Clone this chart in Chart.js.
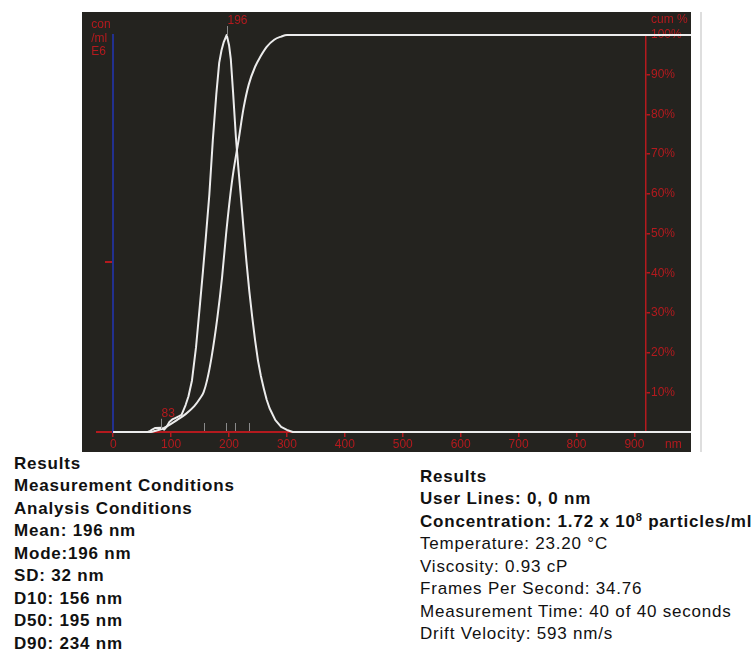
<!DOCTYPE html>
<html>
<head>
<meta charset="utf-8">
<script src="https://cdn.jsdelivr.net/npm/chart.js@4.4.1/dist/chart.umd.min.js"></script>
<style>
  body { margin: 0; background: #fff; width: 753px; height: 651px; position: relative; overflow: hidden;
         font-family: "Liberation Sans", Arial, sans-serif; }
  #panel { position: absolute; left: 82px; top: 12px; width: 609px; height: 440px; background: #24231f; }
  #edge { position: absolute; left: 700px; top: 12px; width: 2px; height: 440px; background: #dedede; }
  .info { position: absolute; font-size: 17px; line-height: 22.45px; letter-spacing: 0.8px; color: #111; }
  .info b { font-weight: bold; display: block; }
  .info span { display: block; }
  .info sup { font-size: 11px; line-height: 0; vertical-align: 6px; }
</style>
</head>
<body>
<div id="panel"><canvas id="nta" width="609" height="440"></canvas></div>
<div id="edge"></div>

<div class="info" style="left:14px; top:453px;">
  <b>Results</b>
  <b>Measurement Conditions</b>
  <b>Analysis Conditions</b>
  <b>Mean: 196 nm</b>
  <b>Mode:196 nm</b>
  <b>SD: 32 nm</b>
  <b>D10: 156 nm</b>
  <b>D50: 195 nm</b>
  <b>D90: 234 nm</b>
</div>

<div class="info" style="left:420px; top:466px;">
  <b>Results</b>
  <b>User Lines: 0, 0 nm</b>
  <b>Concentration: 1.72 x 10<sup>8</sup> particles/ml</b>
  <span>Temperature: 23.20 °C</span>
  <span>Viscosity: 0.93 cP</span>
  <span>Frames Per Second: 34.76</span>
  <span>Measurement Time: 40 of 40 seconds</span>
  <span>Drift Velocity: 593 nm/s</span>
</div>

<script>
// size distribution (con/ml E6)
var sizeNm = [0, 60, 64, 68, 72, 83, 88, 92, 97, 102, 107, 113, 118, 125, 130, 136, 143, 150, 155, 160, 166, 172, 178, 183, 187, 191, 196,
              200, 203, 207, 212, 216, 220, 225, 230, 235, 240, 245, 250, 255, 260, 265, 270, 280, 290, 300, 310, 1000];
var concE6 = [0, 0, 0.007, 0.016, 0.023, 0.025, 0.014, 0.03, 0.059, 0.074, 0.082, 0.092, 0.101, 0.159, 0.211, 0.304, 0.5, 0.76, 0.95, 1.15, 1.4, 1.72, 1.99, 2.176, 2.25, 2.3, 2.34,
              2.28, 2.2, 2.0, 1.73, 1.56, 1.404, 1.2, 1.006, 0.83, 0.679, 0.54, 0.421, 0.33, 0.257, 0.19, 0.14, 0.07, 0.03, 0.012, 0, 0];

// cumulative %
var cumNm  = [0, 65, 75, 85, 95, 110, 125, 140, 150, 156, 162, 170, 180, 188, 195, 205, 217, 225, 234, 245, 254, 265, 278, 290, 300, 1000];
var cumPct = [0, 0, 0.4, 0.8, 1.6, 3, 4.5, 6.5, 8.5, 10, 13, 19, 29, 39, 50, 63, 74, 81.5, 87.5, 92, 94.5, 97, 98.8, 99.6, 100, 100];

var xTicks = [0, 100, 200, 300, 400, 500, 600, 700, 800, 900];
var cumTicks = [10, 20, 30, 40, 50, 60, 70, 80, 90, 100];
var concTicks = [1];
var peakNm = [196, 83];
var statNm = [156, 195, 211, 234];

var red = '#b41a1e';
var lineWhite = '#ececec';
var axisFont = { family: '"Liberation Sans", Arial, sans-serif', size: 12 };

var textPlugin = {
  id: 'ntaText',
  afterDraw: function(chart) {
    var ctx = chart.ctx, ca = chart.chartArea;
    var xs = chart.scales.x, yc = chart.scales.yc;
    var x0 = xs.getPixelForValue(0);
    ctx.save();
    ctx.font = '12px "Liberation Sans", Arial, sans-serif';
    ctx.fillStyle = red;
    ctx.textAlign = 'left';
    ctx.textBaseline = 'alphabetic';
    ['con', '/ml', 'E6'].forEach(function(t, i) {
      ctx.fillText(t, x0 - 22, ca.top - 7 + i * 13.5);
    });
    ctx.fillText('cum %', ca.right + 5, ca.top - 12);
    ctx.fillText('nm', ca.right + 19, ca.bottom + 16);

    // peak markers
    ctx.strokeStyle = '#8a8a8a';
    ctx.lineWidth = 1;
    peakNm.forEach(function(nm) {
      var i = sizeNm.indexOf(nm);
      var px = Math.round(xs.getPixelForValue(nm)) + 0.5;
      var py = yc.getPixelForValue(concE6[i]);
      ctx.beginPath();
      ctx.moveTo(px, py + 1);
      ctx.lineTo(px, py - 9);
      ctx.stroke();
      ctx.fillText(String(nm), px, py - 11);
    });

    // D10 / D50 / D90 style marks on the baseline
    statNm.forEach(function(nm) {
      var px = Math.round(xs.getPixelForValue(nm)) + 0.5;
      ctx.beginPath();
      ctx.moveTo(px, ca.bottom - 1);
      ctx.lineTo(px, ca.bottom - 9);
      ctx.stroke();
    });
    ctx.restore();
  }
};

new Chart(document.getElementById('nta'), {
  type: 'line',
  data: {
    datasets: [{
      label: 'con/ml E6',
      data: sizeNm.map(function(v, i) { return { x: v, y: concE6[i] }; }),
      yAxisID: 'yc',
      borderColor: lineWhite,
      borderWidth: 2,
      pointRadius: 0,
      tension: 0,
      borderJoinStyle: 'round',
      clip: false
    }, {
      label: 'cum %',
      data: cumNm.map(function(v, i) { return { x: v, y: cumPct[i] }; }),
      yAxisID: 'y',
      borderColor: lineWhite,
      borderWidth: 2,
      pointRadius: 0,
      cubicInterpolationMode: 'monotone',
      clip: false
    }]
  },
  options: {
    responsive: false,
    animation: false,
    devicePixelRatio: 1,
    layout: { padding: { left: 15, top: 23, right: 0, bottom: 0 } },
    plugins: { legend: { display: false }, tooltip: { enabled: false } },
    scales: {
      x: {
        type: 'linear',
        position: 'bottom',
        min: -28,
        max: 920,
        afterBuildTicks: function(s) { s.ticks = xTicks.map(function(v) { return { value: v }; }); },
        afterFit: function(s) { s.height = 20; },
        border: { color: red, width: 2 },
        grid: { drawOnChartArea: false, tickLength: 5, tickColor: red, lineWidth: 1.5 },
        ticks: { color: red, font: axisFont, padding: 0, maxRotation: 0, autoSkip: false }
      },
      y: {
        type: 'linear',
        position: 'right',
        min: 0,
        max: 100,
        afterBuildTicks: function(s) { s.ticks = cumTicks.map(function(v) { return { value: v }; }); },
        afterFit: function(s) { s.width = 45; },
        border: { color: red, width: 1.5 },
        grid: { drawOnChartArea: false, tickLength: 4, tickColor: red, lineWidth: 1.5 },
        ticks: { color: red, font: axisFont, padding: 1, callback: function(v) { return v + '%'; } }
      },
      yc: {
        type: 'linear',
        position: { x: 0 },
        min: 0,
        max: 2.34,
        afterBuildTicks: function(s) { s.ticks = concTicks.map(function(v) { return { value: v }; }); },
        border: { color: '#22308f', width: 2 },
        grid: { drawOnChartArea: false, tickLength: 7, tickColor: red, lineWidth: 2 },
        ticks: { display: false }
      }
    }
  },
  plugins: [textPlugin]
});
</script>
</body>
</html>
